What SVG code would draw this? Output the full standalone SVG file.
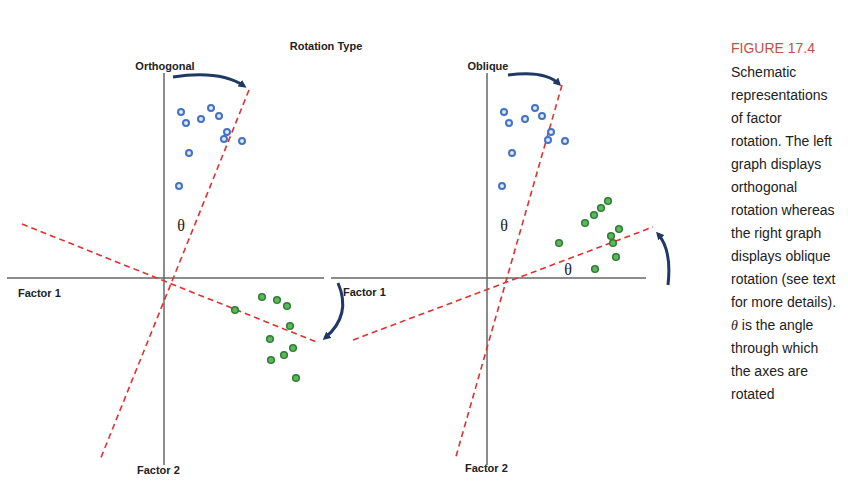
<svg xmlns="http://www.w3.org/2000/svg" width="848" height="489" viewBox="0 0 848 489">
<defs>
<marker id="ah" markerWidth="8" markerHeight="8" refX="5" refY="4" orient="auto" markerUnits="userSpaceOnUse"><path d="M0,0 L8,4 L0,8 Z" fill="#1f3864"/></marker>
<style>
.ax{stroke:#666;stroke-width:1.5;fill:none}
.rd{stroke:#e03030;stroke-width:1.6;stroke-dasharray:6,4;fill:none}
.b{fill:#dde8f8;stroke:#4472c4;stroke-width:2}
.g{fill:#5cb85c;stroke:#2e7d32;stroke-width:1.5}
.arr{stroke:#1f3864;stroke-width:3;fill:none;marker-end:url(#ah)}
.lb{font-family:"Liberation Sans",Arial,sans-serif;font-size:11px;font-weight:bold;fill:#222}
.th{font-family:"Liberation Serif",serif;font-size:16px;fill:#222}
.cap{font-family:"Liberation Sans",Arial,sans-serif;font-size:14px;fill:#222}
</style>
</defs>
<rect width="848" height="489" fill="#fff"/>
<g id="axes">
<line class="ax" x1="164" y1="73" x2="164" y2="465"/>
<line class="ax" x1="7" y1="278" x2="324" y2="278"/>
<line class="ax" x1="331" y1="278" x2="646" y2="278"/>
<line class="ax" x1="487" y1="73" x2="487" y2="465"/>
</g>
<g id="connectors">
<line class="rd" x1="249" y1="90" x2="100" y2="460"/>
<line class="rd" x1="22" y1="224" x2="319" y2="343"/>
<line class="rd" x1="562" y1="85" x2="455" y2="460"/>
<line class="rd" x1="353" y1="340" x2="653" y2="227"/>
<path class="arr" d="M173,77 Q220,70 244,86"/>
<path class="arr" d="M338,283 Q352,315 325,338"/>
<path class="arr" d="M508,75 Q545,70 559,84"/>
<path class="arr" d="M668,285 Q672,250 658,234"/>
</g>
<g id="points-left">
<circle class="b" cx="181" cy="112" r="3"/><circle class="b" cx="186" cy="123" r="3"/><circle class="b" cx="201" cy="119" r="3"/><circle class="b" cx="211" cy="108" r="3"/><circle class="b" cx="219" cy="116" r="3"/><circle class="b" cx="227" cy="132" r="3"/><circle class="b" cx="224" cy="139" r="3"/><circle class="b" cx="242" cy="141" r="3"/><circle class="b" cx="189" cy="153" r="3"/><circle class="b" cx="179" cy="186" r="3"/>
<circle class="g" cx="262" cy="297" r="3.3"/><circle class="g" cx="277" cy="300" r="3.3"/><circle class="g" cx="287" cy="306" r="3.3"/><circle class="g" cx="235" cy="310" r="3.3"/><circle class="g" cx="290" cy="326" r="3.3"/><circle class="g" cx="270" cy="339" r="3.3"/><circle class="g" cx="293" cy="348" r="3.3"/><circle class="g" cx="284" cy="355" r="3.3"/><circle class="g" cx="271" cy="360" r="3.3"/><circle class="g" cx="296" cy="378" r="3.3"/>
</g>
<g id="points-right">
<circle class="b" cx="504" cy="112" r="3"/><circle class="b" cx="509" cy="123" r="3"/><circle class="b" cx="525" cy="119" r="3"/><circle class="b" cx="535" cy="108" r="3"/><circle class="b" cx="542" cy="116" r="3"/><circle class="b" cx="551" cy="132" r="3"/><circle class="b" cx="548" cy="140" r="3"/><circle class="b" cx="565" cy="141" r="3"/><circle class="b" cx="512" cy="153" r="3"/><circle class="b" cx="502" cy="186" r="3"/>
<circle class="g" cx="608" cy="201" r="3.3"/><circle class="g" cx="601" cy="208" r="3.3"/><circle class="g" cx="594" cy="215" r="3.3"/><circle class="g" cx="585" cy="223" r="3.3"/><circle class="g" cx="619" cy="229" r="3.3"/><circle class="g" cx="611" cy="236" r="3.3"/><circle class="g" cx="613" cy="243" r="3.3"/><circle class="g" cx="559" cy="243" r="3.3"/><circle class="g" cx="616" cy="257" r="3.3"/><circle class="g" cx="595" cy="269" r="3.3"/>
</g>
<g id="labels">
<text class="lb" x="326" y="50" text-anchor="middle">Rotation Type</text>
<text class="lb" x="165" y="70" text-anchor="middle">Orthogonal</text>
<text class="lb" x="488" y="70" text-anchor="middle">Oblique</text>
<text class="lb" x="18" y="297">Factor 1</text>
<text class="lb" x="343" y="296">Factor 1</text>
<text class="lb" x="137" y="474">Factor 2</text>
<text class="lb" x="465" y="472">Factor 2</text>
<text class="th" x="181" y="231" text-anchor="middle">θ</text>
<text class="th" x="504" y="231" text-anchor="middle">θ</text>
<text class="th" x="568" y="275" text-anchor="middle">θ</text>
</g>
<g id="caption">
<text class="cap" x="731" y="53" fill="#c0504d" style="fill:#c0504d">FIGURE 17.4</text>
<text class="cap" x="731" y="77">Schematic</text>
<text class="cap" x="731" y="100">representations</text>
<text class="cap" x="731" y="123">of factor</text>
<text class="cap" x="731" y="146">rotation. The left</text>
<text class="cap" x="731" y="169">graph displays</text>
<text class="cap" x="731" y="192">orthogonal</text>
<text class="cap" x="731" y="215">rotation whereas</text>
<text class="cap" x="731" y="238">the right graph</text>
<text class="cap" x="731" y="261">displays oblique</text>
<text class="cap" x="731" y="284">rotation (see text</text>
<text class="cap" x="731" y="307">for more details).</text>
<text class="cap" x="731" y="330"><tspan font-style="italic" font-family="Liberation Serif,serif">θ</tspan> is the angle</text>
<text class="cap" x="731" y="353">through which</text>
<text class="cap" x="731" y="376">the axes are</text>
<text class="cap" x="731" y="399">rotated</text>
</g>
</svg>
